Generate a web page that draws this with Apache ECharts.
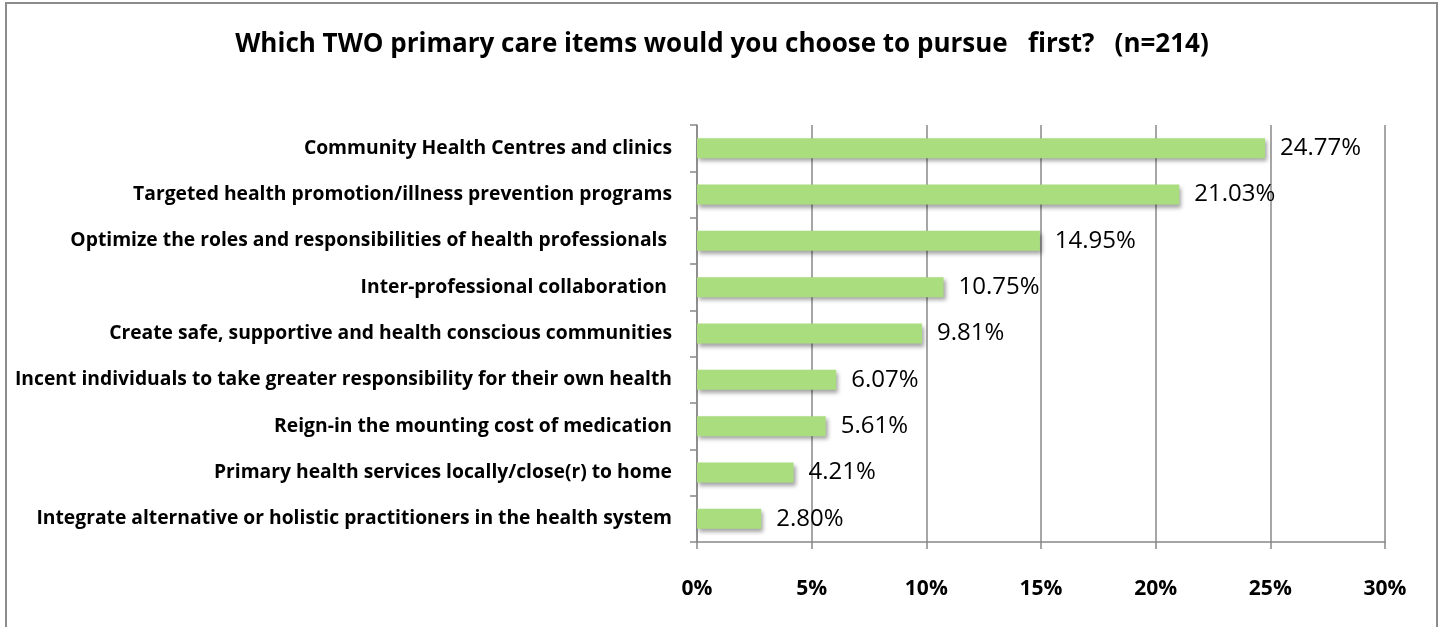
<!DOCTYPE html>
<html><head><meta charset="utf-8">
<script src="https://cdn.jsdelivr.net/npm/echarts@6/dist/echarts.min.js"></script>
<style>html,body{margin:0;padding:0;background:#fff}#c{width:1444px;height:627px}</style>
</head><body><div id="c"></div>
<script>
const titleText = 'Which TWO primary care items would you choose to pursue   first?   (n=214)';
const categories = [
  'Community Health Centres and clinics',
  'Targeted health promotion/illness prevention programs',
  'Optimize the roles and responsibilities of health professionals ',
  'Inter-professional collaboration ',
  'Create safe, supportive and health conscious communities',
  'Incent individuals to take greater responsibility for their own health',
  'Reign-in the mounting cost of medication',
  'Primary health services locally/close(r) to home',
  'Integrate alternative or holistic practitioners in the health system'
];
const values = [24.77, 21.03, 14.95, 10.75, 9.81, 6.07, 5.61, 4.21, 2.80];
const xTicks = [0, 5, 10, 15, 20, 25, 30];

const chart = echarts.init(document.getElementById('c'));
chart.setOption({
  animation: false,
  graphic: [{
    type: 'rect', shape: {x: 6, y: 3, width: 1431, height: 640},
    style: {fill: 'none', stroke: '#8c8c8c', lineWidth: 2}
  }],
  title: {
    text: titleText, left: 'center', top: 27,
    textStyle: {fontFamily: 'Open Sans', fontWeight: 'bold', fontSize: 26, color: '#000'}
  },
  grid: {left: 697, right: 59, top: 125, bottom: 85, containLabel: false},
  xAxis: {
    type: 'value', min: xTicks[0], max: xTicks[xTicks.length - 1], interval: 5,
    axisLine: {show: true, lineStyle: {color: '#888', width: 1.5}},
    axisTick: {show: true, length: 7, lineStyle: {color: '#888', width: 1.5}},
    splitLine: {show: true, lineStyle: {color: '#888', width: 1.5}},
    axisLabel: {
      formatter: v => v + '%', margin: 37,
      fontFamily: 'Open Sans', fontWeight: 'bold', fontSize: 21, color: '#000'
    }
  },
  yAxis: {
    type: 'category', inverse: true, data: categories,
    axisLine: {show: true, lineStyle: {color: '#888', width: 1.5}},
    axisTick: {show: true, length: 7, lineStyle: {color: '#888', width: 1.5}},
    axisLabel: {margin: 25, fontFamily: 'Open Sans', fontWeight: 'bold', fontSize: 19.3, color: '#000'}
  },
  series: [{
    type: 'bar', data: values, barWidth: 20,
    itemStyle: {
      color: '#a9dd7e', shadowColor: 'rgba(0,0,0,0.35)',
      shadowBlur: 4, shadowOffsetX: 2, shadowOffsetY: 3
    },
    label: {
      show: true, position: 'right', distance: 15,
      formatter: p => p.value.toFixed(2) + '%',
      fontFamily: 'Open Sans', fontSize: 24, color: '#000'
    }
  }]
});
</script></body></html>
